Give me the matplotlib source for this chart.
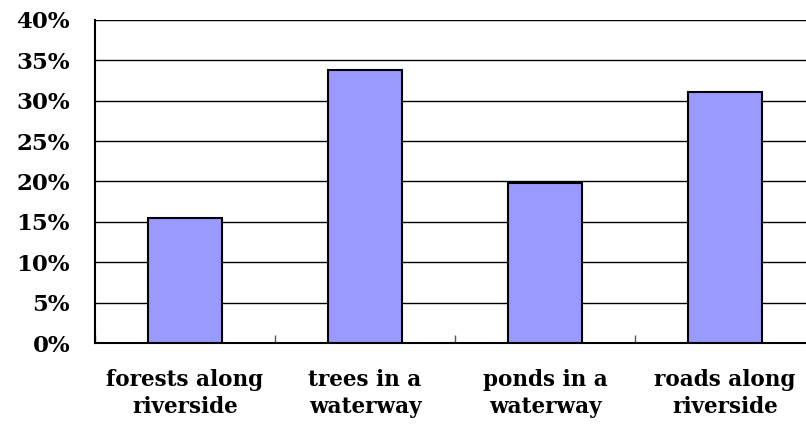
import matplotlib.pyplot as plt
import numpy as np

# categories and shares
categories = ["forests along\nriverside", "trees in a\nwaterway", "ponds in a\nwaterway", "roads along\nriverside"]
shares = [15.5, 33.8, 19.8, 31.1]
y_ticks = [0, 5, 10, 15, 20, 25, 30, 35, 40]

fig = plt.figure(figsize=(8.06, 4.24), dpi=100)
ax = fig.add_axes([95 / 806, 81 / 424, 720 / 806, 323 / 424])

x = np.arange(len(categories))
ax.bar(x, shares, width=0.41, color="#9999FF", edgecolor="black", linewidth=1.5, zorder=3)

ax.set_xlim(-0.5, len(categories) - 0.5)
ax.set_ylim(0, 40)
ax.set_yticks(y_ticks)
ax.set_yticklabels([f"{v}%" for v in y_ticks])
ax.yaxis.grid(True, color="black", linewidth=1)
ax.set_axisbelow(True)

# x labels centred on the bars, tick marks on category boundaries
ax.set_xticks(x)
ax.set_xticklabels(categories, linespacing=1.3)
ax.set_xticks(np.arange(len(categories) + 1) - 0.5, minor=True)
ax.tick_params(axis="x", which="major", length=0, pad=19)
ax.tick_params(axis="x", which="minor", direction="in", length=6, width=1, color="#555555")
ax.tick_params(axis="y", length=0, pad=18)

for lab in ax.get_xticklabels():
    lab.set_fontfamily("DejaVu Serif")
    lab.set_fontweight("bold")
    lab.set_fontsize(15.5)
for lab in ax.get_yticklabels():
    lab.set_fontfamily("DejaVu Serif")
    lab.set_fontweight("bold")
    lab.set_fontsize(16.5)

for s in ["top", "right"]:
    ax.spines[s].set_visible(False)
ax.spines["left"].set_linewidth(1.5)
ax.spines["bottom"].set_linewidth(1.5)

fig.savefig("out.png", dpi=100)
